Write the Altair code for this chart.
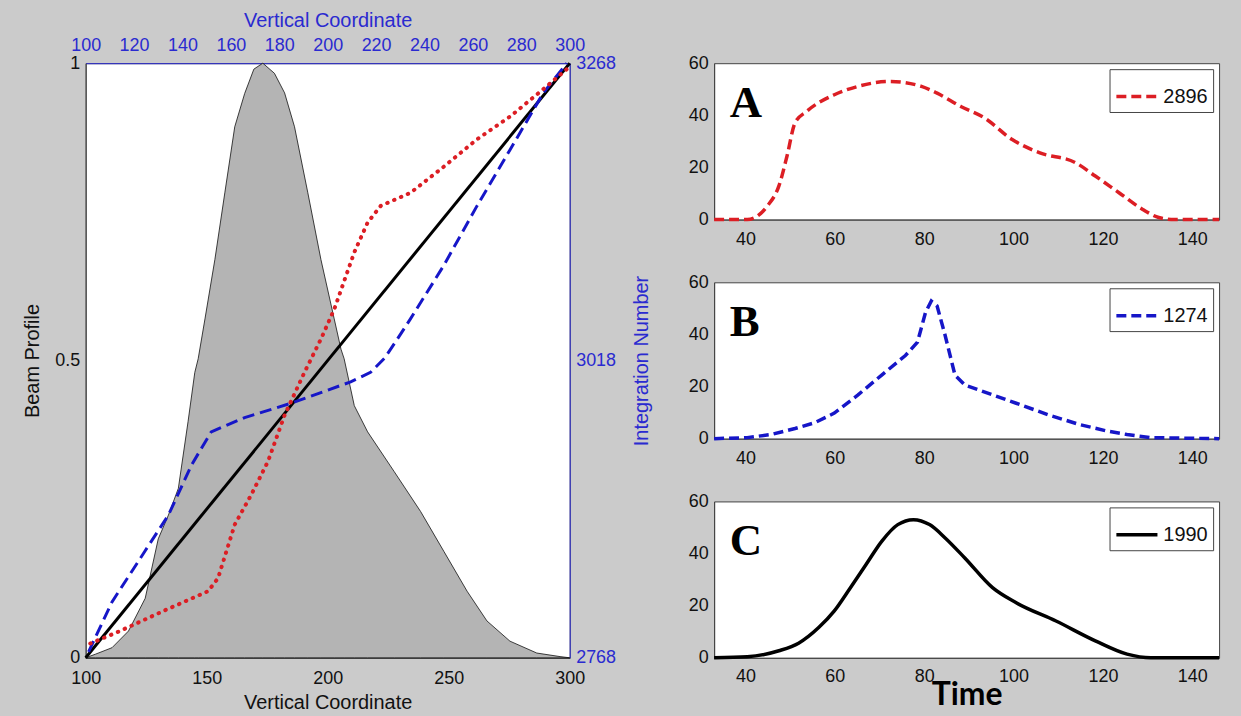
import altair as alt
import pandas as pd

# ---------------- Left panel data ----------------
beam_x = [100, 104, 110.9, 117.7, 124.6, 130, 134.2, 138.3, 142.3, 145.1, 146.5, 149.3,
          153.4, 157.5, 161.6, 165.7, 169.5, 173.2, 178, 182.2, 186.3, 191.8, 197.2,
          202.7, 205.5, 206.8, 211, 216.5, 227.5, 238.4, 248, 257.6, 265.8, 275.3,
          286.4, 296, 300]
beam_y = [0, 0.006, 0.017, 0.045, 0.10, 0.20, 0.24, 0.285, 0.397, 0.48, 0.503, 0.57,
          0.67, 0.782, 0.893, 0.949, 0.99, 1.0, 0.983, 0.95, 0.893, 0.782, 0.67,
          0.57, 0.519, 0.503, 0.424, 0.38, 0.313, 0.246, 0.179, 0.112, 0.062, 0.028,
          0.008, 0.002, 0]

red_x = [101.9, 113.6, 132.8, 150.6, 154.7, 161.6, 168.4, 175.3, 182.2, 190.4, 197.2,
         202.7, 211, 216.5, 221.9, 234.2, 248, 261.7, 275.3, 289, 298.8]
red_n = [2780, 2790, 2808, 2824, 2835, 2880, 2905, 2933, 2972, 3008, 3036,
         3061, 3109, 3134, 3148, 3159, 3181, 3204, 3223, 3246, 3263]

blue_x = [101.2, 110.9, 124.6, 134.2, 143.7, 151.9, 165.7, 184.8, 209.5, 217.7, 223.5,
          228.8, 234.2, 248, 261.7, 275.3, 289.1, 298.8]
blue_n = [2773, 2815, 2858, 2888, 2930, 2958, 2970, 2982, 3000, 3008, 3020,
          3036, 3053, 3098, 3148, 3195, 3243, 3268]

black_x = [100, 300]
black_n = [2768, 3268]

bottom_ticks = [100, 150, 200, 250, 300]
top_ticks = [100, 120, 140, 160, 180, 200, 220, 240, 260, 280, 300]
left_ticks = [0, 0.5, 1]
right_ticks = [2768, 3018, 3268]

# ---------------- Right panels data ----------------
tA = [33, 40.4, 44.9, 47.5, 49.3, 51.1, 53.7, 59.9, 65.2, 72.3, 79.4, 82.9, 88.2, 93.5,
      99.7, 105.9, 113.9, 118.3, 123.6, 128.9, 132.5, 136, 146]
vA = [0, 0, 5.2, 12.9, 24.3, 37.1, 41.5, 47.9, 51.1, 53, 51.1, 48.5, 43.4, 39,
      30.7, 25.6, 21.8, 16.7, 10.3, 3.9, 0.8, 0, 0]

tB = [33, 40.4, 45.8, 51.1, 55.5, 59.9, 65.2, 70.5, 75.8, 78.5, 80.3, 81.6, 82.9, 84.7,
      86.9, 89.1, 95.3, 100.6, 107.7, 114.8, 121, 125.4, 130.7, 146]
vB = [0, 0.4, 1.6, 3.9, 6.1, 9.8, 16.8, 24.4, 31.9, 37, 48.4, 52.8, 50.9, 39.6,
      24.4, 20.6, 16.8, 13.6, 9.2, 5.4, 2.9, 1.6, 0.4, 0]

tC = [33, 40.4, 47.5, 51.9, 56.4, 59.9, 63.5, 67, 70.5, 74.1, 77.6, 81.2, 84.7, 89.1,
      95.3, 100.6, 109.5, 118.3, 125.4, 130.7, 146]
vC = [0, 0.4, 2.7, 5.6, 11.6, 18, 26.9, 35.8, 44.7, 51.1, 53, 51.1, 46, 38.3,
      26.9, 21.1, 14.1, 6.5, 1.4, 0, 0]

series_names = ["2896", "1274", "1990"]
panel_letters = ["A", "B", "C"]
time_ticks = [40, 60, 80, 100, 120, 140]
count_ticks = [0, 20, 40, 60]

BLUE_AX = "#2a2ad0"
RED = "#dc1e24"
BLUE = "#1616c8"
FONT = "Liberation Sans"

# ---------------- Left panel ----------------
xs_left = alt.Scale(domain=[100, 300], nice=False, zero=False)
ys_int = alt.Scale(domain=[2768, 3268], nice=False, zero=False)

area = alt.Chart(pd.DataFrame({"v": beam_x, "p": beam_y})).mark_area(
    color="#b4b4b4", stroke="#111111", strokeWidth=0.8, opacity=1
).encode(
    x=alt.X("v:Q", scale=xs_left,
            axis=alt.Axis(orient="bottom", values=bottom_ticks, title="Vertical Coordinate",
                          labelPadding=12, titlePadding=5, format="d", labelFlush=False)),
    y=alt.Y("p:Q", scale=alt.Scale(domain=[0, 1], nice=False),
            axis=alt.Axis(orient="left", values=left_ticks, title="Beam Profile",
                          format="~g", labelPadding=6, titlePadding=12)),
)

black_line = alt.Chart(pd.DataFrame({"v": black_x, "n": black_n})).mark_line(
    color="#000000", strokeWidth=3
).encode(
    x=alt.X("v:Q", scale=xs_left,
            axis=alt.Axis(orient="top", values=top_ticks, title="Vertical Coordinate",
                          format="d", labelColor=BLUE_AX, titleColor=BLUE_AX,
                          domainColor=BLUE_AX, labelPadding=9, titlePadding=6,
                          labelFlush=False)),
    y=alt.Y("n:Q", scale=ys_int,
            axis=alt.Axis(orient="right", values=right_ticks, title="Integration Number",
                          format="d", labelColor=BLUE_AX, titleColor=BLUE_AX,
                          domainColor=BLUE_AX, titleAngle=270, labelPadding=6,
                          titlePadding=36)),
)

blue_line = alt.Chart(pd.DataFrame({"v": blue_x, "n": blue_n})).mark_line(
    color=BLUE, strokeWidth=3, strokeDash=[12, 6]
).encode(x=alt.X("v:Q", scale=xs_left), y=alt.Y("n:Q", scale=ys_int))

red_line = alt.Chart(pd.DataFrame({"v": red_x, "n": red_n})).mark_line(
    color=RED, strokeWidth=4, strokeDash=[0.5, 7], strokeCap="round"
).encode(x=alt.X("v:Q", scale=xs_left), y=alt.Y("n:Q", scale=ys_int))

lines = alt.layer(black_line, blue_line, red_line)

left = alt.layer(area, lines).resolve_scale(x="independent", y="independent").properties(
    width=486, height=597
)

# ---------------- Right panels ----------------
def panel(t, v, name, color, dash, letter, interp, last):
    df = pd.DataFrame({"t": t, "v": v, "s": [name] * len(t)})
    mark_kw = dict(strokeWidth=3.5, interpolate=interp)
    leg_kw = dict(orient="top-right", title=None, symbolType="stroke", symbolStrokeWidth=3.5,
                  symbolSize=1700, labelFontSize=20, labelFont=FONT, labelColor="#111111",
                  fillColor="white", strokeColor="#444444", padding=5, offset=6,
                  labelOffset=4)
    if dash:
        mark_kw["strokeDash"] = dash
        leg_kw["symbolDash"] = dash
    if last:
        xaxis = alt.Axis(values=time_ticks, title="Time", titleFont="Lato",
                         titleFontSize=32, titleFontWeight="bold", titleColor="#000000",
                         titlePadding=-6, labelPadding=10)
    else:
        xaxis = alt.Axis(values=time_ticks, title=None, labelPadding=11)
    line = alt.Chart(df).mark_line(**mark_kw).encode(
        x=alt.X("t:Q", scale=alt.Scale(domain=[33, 146], nice=False, zero=False), axis=xaxis),
        y=alt.Y("v:Q", scale=alt.Scale(domain=[0, 60], nice=False),
                axis=alt.Axis(values=count_ticks, title=None, labelPadding=6)),
        color=alt.Color("s:N", scale=alt.Scale(domain=[name], range=[color]),
                        legend=alt.Legend(**leg_kw)),
    )
    lab = alt.Chart(pd.DataFrame({"t": [36.5], "v": [39.5], "txt": [letter]})).mark_text(
        font="Liberation Serif", fontWeight="bold", fontSize=45, align="left",
        baseline="alphabetic", color="#000000"
    ).encode(x="t:Q", y="v:Q", text="txt:N")
    return alt.layer(line, lab).properties(width=507, height=157)


pA = panel(tA, vA, series_names[0], RED, [10, 5], panel_letters[0], "monotone", False)
pB = panel(tB, vB, series_names[1], BLUE, [10, 5], panel_letters[1], "linear", False)
pC = panel(tC, vC, series_names[2], "#000000", None, panel_letters[2], "monotone", True)

right = alt.vconcat(pA, pB, pC, spacing=63, bounds="flush").resolve_scale(color="independent")

chart = alt.hconcat(left, right, spacing=145, bounds="flush").properties(
    background="#cbcbcb",
    padding={"left": 22, "top": 8, "right": 14, "bottom": 2},
).configure_view(
    fill="white", stroke="#444444", strokeWidth=1
).configure_axis(
    grid=False, ticks=False, labelFont=FONT, titleFont=FONT, labelFontSize=18,
    titleFontSize=20, titleFontWeight="normal", labelColor="#111111",
    titleColor="#111111", domainColor="#444444", domainWidth=1
)

chart.save("out.html", embed_options={"renderer": "svg", "actions": False})
